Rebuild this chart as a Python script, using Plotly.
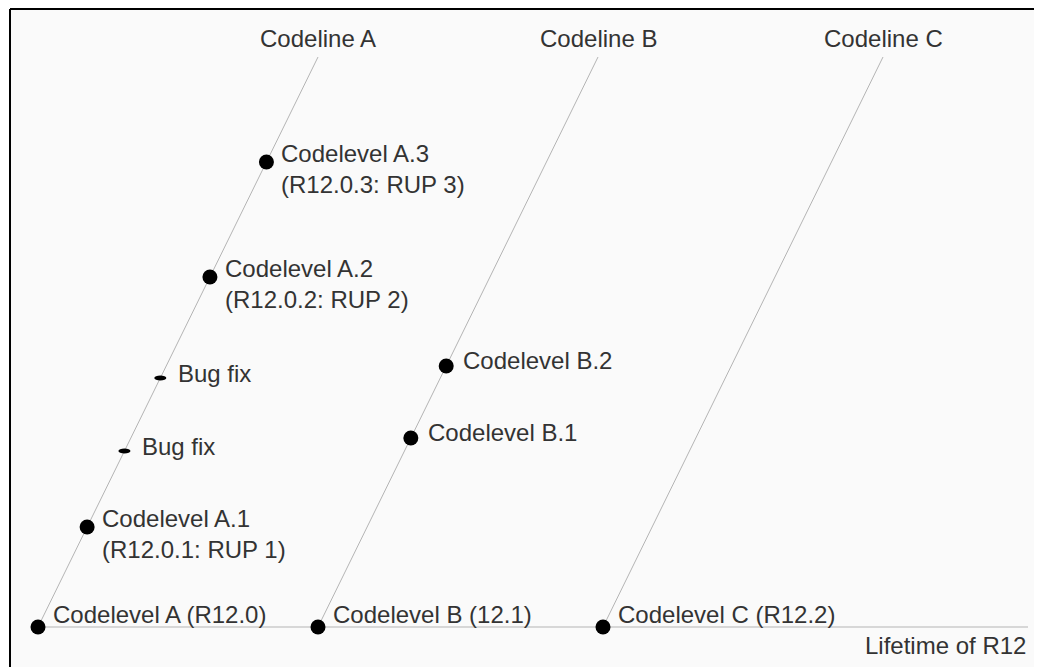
import plotly.graph_objects as go

# ---- data ----
codelines = ["Codeline A", "Codeline B", "Codeline C"]
codeline_start = [0, 280, 565]          # time at which each codeline branches off
codeline_height = 570                    # level reached at the top of each codeline
slope = 570 / 280                        # level gained per unit of time

event_codeline = [0, 0, 0, 0, 0, 0, 1, 1, 1, 2]
event_height = [0, 100, 176, 249, 350, 465, 0, 189, 261, 0]
event_kind = ["base", "rup", "bugfix", "bugfix", "rup", "rup", "base", "level", "level", "base"]
event_label = [
    "Codelevel A (R12.0)",
    "Codelevel A.1<br>(R12.0.1: RUP 1)",
    "Bug fix",
    "Bug fix",
    "Codelevel A.2<br>(R12.0.2: RUP 2)",
    "Codelevel A.3<br>(R12.0.3: RUP 3)",
    "Codelevel B (12.1)",
    "Codelevel B.1",
    "Codelevel B.2",
    "Codelevel C (R12.2)",
]
timeline_end = 990
timeline_label = "Lifetime of R12"

# ---- style ----
FONT = "Liberation Sans, Arial, Helvetica, sans-serif"
TEXT_COLOR = "#333333"
LINE_COLOR = "#b4b4b4"
FS = 24
label_shift = {"base": (13, 13), "rup": (13, -7), "bugfix": (16, 5), "level": (15, 6)}

fig = go.Figure()

# timeline
fig.add_trace(go.Scatter(x=[0, timeline_end], y=[0, 0], mode="lines",
                         line=dict(color=LINE_COLOR, width=1), hoverinfo="skip"))

# codelines
for name, start in zip(codelines, codeline_start):
    x_top = start + codeline_height / slope
    fig.add_trace(go.Scatter(x=[start, x_top], y=[0, codeline_height], mode="lines",
                             line=dict(color=LINE_COLOR, width=1), hoverinfo="skip"))
    fig.add_annotation(x=x_top, y=codeline_height, text=name, showarrow=False,
                       xanchor="center", yanchor="middle", yshift=19,
                       font=dict(family=FONT, size=FS, color=TEXT_COLOR))

# events
ex, ey = [], []
for cl, h, kind, lab in zip(event_codeline, event_height, event_kind, event_label):
    x = codeline_start[cl] + h / slope
    if kind == "bugfix":
        fig.add_shape(type="circle", xref="x", yref="y", xsizemode="pixel", ysizemode="pixel",
                      xanchor=x, yanchor=h, x0=-6, x1=6, y0=-2.5, y1=2.5,
                      fillcolor="black", line=dict(width=0))
    else:
        ex.append(x)
        ey.append(h)
    dx, dy = label_shift[kind]
    fig.add_annotation(x=x, y=h, text=lab, showarrow=False, xanchor="left", yanchor="middle",
                       align="left", xshift=dx, yshift=dy,
                       font=dict(family=FONT, size=FS, color=TEXT_COLOR))

fig.add_trace(go.Scatter(x=ex, y=ey, mode="markers",
                         marker=dict(color="black", size=15, line=dict(width=0)),
                         hoverinfo="skip"))

fig.add_annotation(x=timeline_end, y=0, text=timeline_label, showarrow=False,
                   xanchor="right", yanchor="middle", yshift=-18,
                   font=dict(family=FONT, size=FS, color=TEXT_COLOR))

# frame (top and left edges)
fig.add_shape(type="line", xref="paper", yref="paper", x0=0, x1=1, y0=1, y1=1,
              line=dict(color="black", width=2), layer="above")
fig.add_shape(type="line", xref="paper", yref="paper", x0=0, x1=0, y0=0, y1=1,
              line=dict(color="black", width=2), layer="above")

fig.update_layout(
    width=1034, height=659,
    margin=dict(l=2, r=0, t=1, b=0, autoexpand=False),
    paper_bgcolor="white", plot_bgcolor="#fafafa",
    showlegend=False,
    xaxis=dict(range=[-28, 1004], visible=False, fixedrange=True),
    yaxis=dict(range=[-40, 618], visible=False, fixedrange=True),
)

fig.write_html(
    "out.html",
    config={"displayModeBar": False},
    post_script="document.documentElement.style.overflow='hidden';document.body.style.overflow='hidden';",
)
